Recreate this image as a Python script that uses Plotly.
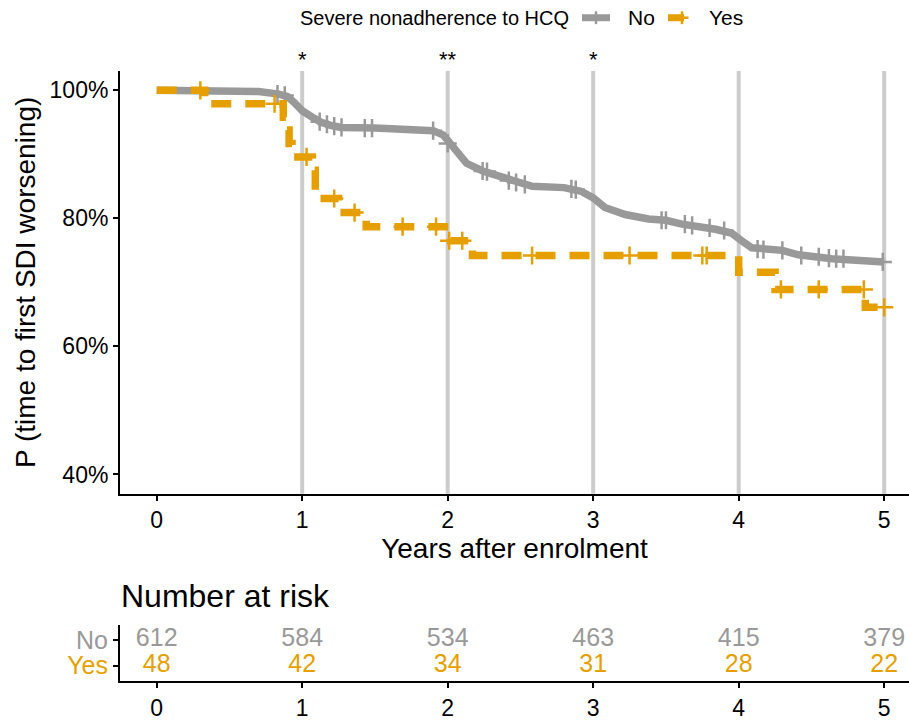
import plotly.graph_objects as go

# ---------------- data ----------------
no_t = [0, 0.60, 0.70, 0.84, 0.90, 0.95, 1.00, 1.07, 1.13, 1.20, 1.27, 1.50, 1.80, 1.90, 1.97,
        2.03, 2.08, 2.13, 2.24, 2.35, 2.46, 2.58, 2.80, 2.92, 3.00, 3.08, 3.22, 3.38, 3.50,
        3.61, 3.84, 3.95, 4.02, 4.09, 4.30, 4.41, 4.64, 4.87, 5.00]
no_s = [1.0, 1.0, 0.998, 0.994, 0.990, 0.980, 0.968, 0.958, 0.950, 0.945, 0.942, 0.941, 0.940,
        0.937, 0.930, 0.915, 0.899, 0.886, 0.874, 0.866, 0.856, 0.850, 0.848, 0.842, 0.832,
        0.817, 0.806, 0.799, 0.797, 0.791, 0.783, 0.777, 0.765, 0.754, 0.750, 0.743, 0.737,
        0.735, 0.732]
no_cens_t = [0.83, 0.88, 1.12, 1.17, 1.22, 1.27, 1.43, 1.48, 1.90, 2.00, 2.24, 2.27, 2.42, 2.47,
             2.53, 2.85, 2.88, 3.47, 3.50, 3.63, 3.68, 3.80, 3.90, 4.13, 4.17, 4.30, 4.43,
             4.55, 4.62, 4.67, 4.72, 4.99]
no_cens_s = [0.994, 0.992, 0.951, 0.947, 0.944, 0.942, 0.941, 0.941, 0.937, 0.917, 0.874, 0.873,
             0.859, 0.856, 0.853, 0.846, 0.845, 0.797, 0.797, 0.791, 0.789, 0.785, 0.781, 0.752,
             0.751, 0.750, 0.742, 0.740, 0.738, 0.737, 0.737, 0.732]

yes_t = [0, 0.33, 0.87, 0.89, 0.91, 0.93, 1.07, 1.09, 1.25, 1.44, 2.02, 2.17, 4.00, 4.25, 4.87, 5.00]
yes_s = [1.0, 0.979, 0.958, 0.938, 0.917, 0.896, 0.875, 0.831, 0.809, 0.787, 0.765, 0.742,
         0.716, 0.689, 0.661, 0.661]
yes_cens_t = [0.30, 0.81, 1.03, 1.22, 1.36, 1.69, 1.92, 2.01, 2.10, 2.58, 3.25, 3.75, 3.78,
              4.29, 4.55, 4.86, 5.00]
yes_cens_s = [1.0, 0.979, 0.896, 0.831, 0.809, 0.787, 0.787, 0.765, 0.765, 0.742, 0.742, 0.742,
              0.742, 0.689, 0.689, 0.689, 0.661]

risk_times = [0, 1, 2, 3, 4, 5]
risk_no = [612, 584, 534, 463, 415, 379]
risk_yes = [48, 42, 34, 31, 28, 22]

groups = ["No", "Yes"]
legend_title = "Severe nonadherence to HCQ"

sig_times = [1, 2, 3]
sig_labels = ["*", "**", "*"]

y_ticks = [0.4, 0.6, 0.8, 1.0]
y_ticklabels = ["40%", "60%", "80%", "100%"]
x_ticks = [0, 1, 2, 3, 4, 5]

GREY = "#999999"
ORANGE = "#E69F00"
FONT = "Liberation Sans, Arial, sans-serif"

W, H = 909, 721
def px_x(p):
    return p / W
def px_y(p):
    return (H - p) / H

# x scale: 0 -> 156.7 px, 145.5 px per year; panel spans 120 px .. right edge
X0, XS = 156.7, 145.5
xrange = [(120 - X0) / XS, (W - X0) / XS]
xdom = [px_x(120), 1.0]

fig = go.Figure()

# vertical reference lines
for t in x_ticks[1:]:
    fig.add_shape(type="line", xref="x", yref="y domain", x0=t, x1=t, y0=0, y1=1,
                  line=dict(color="#cccccc", width=4), layer="below")

# curves
fig.add_trace(go.Scatter(x=no_t, y=no_s, mode="lines", line=dict(color=GREY, width=7.5),
                         showlegend=False, xaxis="x", yaxis="y"))
fig.add_trace(go.Scatter(x=no_cens_t, y=no_cens_s, mode="markers",
                         marker=dict(symbol="cross-thin", size=13, line=dict(color=GREY, width=2.5)),
                         showlegend=False, xaxis="x", yaxis="y"))
fig.add_trace(go.Scatter(x=yes_t, y=yes_s, mode="lines",
                         line=dict(color=ORANGE, width=7.5, dash="20px,14px", shape="hv"),
                         showlegend=False, xaxis="x", yaxis="y"))
fig.add_trace(go.Scatter(x=yes_cens_t, y=yes_cens_s, mode="markers",
                         marker=dict(symbol="cross-thin", size=13, line=dict(color=ORANGE, width=2.5)),
                         showlegend=False, xaxis="x", yaxis="y"))

# risk table
fig.add_trace(go.Scatter(x=risk_times, y=[2] * len(risk_times), mode="text",
                         text=[str(v) for v in risk_no],
                         textfont=dict(color=GREY, size=25, family=FONT),
                         showlegend=False, xaxis="x2", yaxis="y2"))
fig.add_trace(go.Scatter(x=risk_times, y=[1] * len(risk_times), mode="text",
                         text=[str(v) for v in risk_yes],
                         textfont=dict(color=ORANGE, size=25, family=FONT),
                         showlegend=False, xaxis="x2", yaxis="y2"))

# legend keys (paper-space shapes)
LEG_Y = 18
def legend_key(x0, x1, xc, color):
    fig.add_shape(type="line", xref="paper", yref="paper", x0=px_x(x0), x1=px_x(x1),
                  y0=px_y(LEG_Y), y1=px_y(LEG_Y), line=dict(color=color, width=7))
    fig.add_shape(type="line", xref="paper", yref="paper", x0=px_x(xc - 6.5), x1=px_x(xc + 6.5),
                  y0=px_y(LEG_Y), y1=px_y(LEG_Y), line=dict(color=color, width=2.5))
    fig.add_shape(type="line", xref="paper", yref="paper", x0=px_x(xc), x1=px_x(xc),
                  y0=px_y(LEG_Y - 6.5), y1=px_y(LEG_Y + 6.5), line=dict(color=color, width=2.5))

legend_key(582, 610, 596, GREY)
legend_key(668, 684, 682, ORANGE)

annotations = []
annotations.append(dict(x=px_x(298), y=px_y(LEG_Y), xref="paper", yref="paper", text=legend_title,
                        showarrow=False, font=dict(size=20, color="black", family=FONT),
                        xanchor="left", yanchor="middle"))
annotations.append(dict(x=px_x(626), y=px_y(LEG_Y), xref="paper", yref="paper", text=groups[0],
                        showarrow=False, font=dict(size=21, color="black", family=FONT),
                        xanchor="left", yanchor="middle"))
annotations.append(dict(x=px_x(707), y=px_y(LEG_Y), xref="paper", yref="paper", text=groups[1],
                        showarrow=False, font=dict(size=21, color="black", family=FONT),
                        xanchor="left", yanchor="middle"))
for t, lab in zip(sig_times, sig_labels):
    annotations.append(dict(x=t, y=px_y(60), xref="x", yref="paper", text=lab, showarrow=False,
                            font=dict(size=22, color="black", family=FONT), xanchor="center", yanchor="middle"))
annotations.append(dict(x=px_x(119), y=px_y(605), xref="paper", yref="paper", text="Number at risk",
                        showarrow=False, font=dict(size=32, color="black", family=FONT),
                        xanchor="left", yanchor="middle"))

axis_common = dict(showgrid=False, zeroline=False, showline=True, linecolor="black", linewidth=2,
                   ticks="outside", ticklen=5, tickwidth=1.5, tickcolor="black")

fig.update_layout(
    width=W, height=H,
    margin=dict(l=0, r=0, t=0, b=0),
    plot_bgcolor="white", paper_bgcolor="white",
    font=dict(family=FONT, color="black"),
    showlegend=False,
    xaxis=dict(domain=xdom, anchor="y", range=xrange, tickvals=x_ticks,
               tickfont=dict(size=23, family=FONT),
               title=dict(text="Years after enrolment", font=dict(size=28, family=FONT), standoff=2),
               **axis_common),
    yaxis=dict(domain=[px_y(501.3), px_y(72.2)], anchor="x",
               range=[0.37, 1.03],
               tickvals=y_ticks, ticktext=y_ticklabels,
               tickfont=dict(size=23, family=FONT),
               title=dict(text="P (time to first SDI worsening)", font=dict(size=28, family=FONT), standoff=6),
               **axis_common),
    xaxis2=dict(domain=xdom, anchor="y2", range=xrange, tickvals=x_ticks,
                tickfont=dict(size=23, family=FONT), **axis_common),
    yaxis2=dict(domain=[px_y(691.6), px_y(634.4)], anchor="x2",
                range=[0.4, 2.6],
                tickvals=[1, 2],
                ticktext=[f'<span style="color:{ORANGE}">Yes</span>', f'<span style="color:{GREY}">No</span>'],
                tickfont=dict(size=25, family=FONT), **axis_common),
    annotations=annotations,
)

fig.write_html("out.html", config={"displayModeBar": False},
               post_script="document.body.style.margin='0';document.body.style.overflow='hidden';")
